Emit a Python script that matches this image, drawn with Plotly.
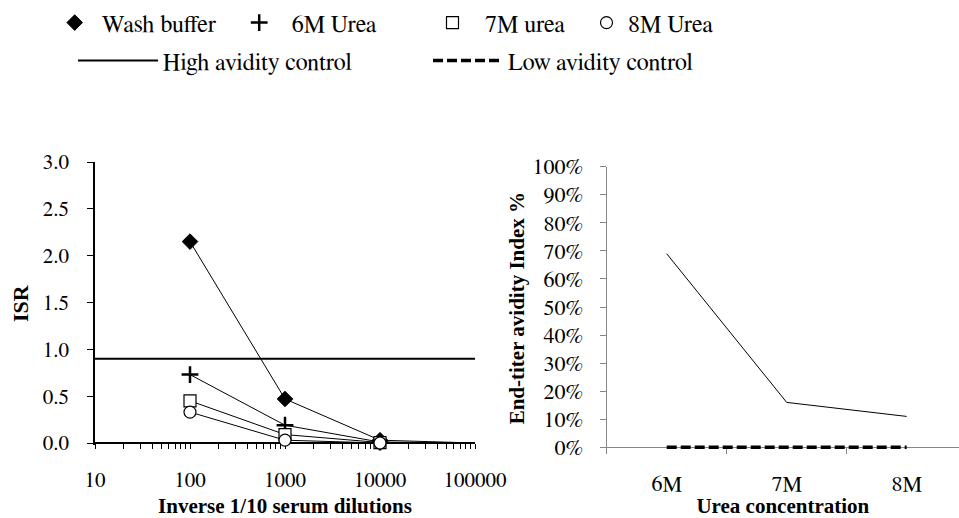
import plotly.graph_objects as go

# ---------------- data ----------------
dilutions = [100, 1000, 10000, 100000]
wash_buffer = [2.15, 0.47, 0.03, 0.0]
urea_6m = [0.73, 0.19, 0.01, 0.0]
urea_7m = [0.45, 0.09, 0.005, 0.0]
urea_8m = [0.33, 0.03, 0.0, 0.0]

high_control_x = [10, 100000]
high_control_isr = [0.9, 0.9]

dil_ticks = [10, 100, 1000, 10000, 100000]
dil_labels = ["10", "100", "1000", "10000", "100000"]

urea_conc = ["6M", "7M", "8M"]
endtiter_avidity = [0.69, 0.16, 0.11]
low_control_avidity = [0.0, 0.0, 0.0]

FONT = "FreeSerif, Liberation Serif, serif"
BOLD_FONT = "Liberation Serif, FreeSerif, serif"
W, H = 959, 518

fig = go.Figure()

series = [
    ("Wash buffer", wash_buffer, dict(symbol="diamond", size=12, color="black",
                                      line=dict(color="black", width=1))),
    ("6M Urea", urea_6m, dict(symbol="cross-thin", size=12, color="black",
                              line=dict(color="black", width=2.5))),
    ("7M urea", urea_7m, dict(symbol="square", size=12, color="white",
                              line=dict(color="black", width=1.2))),
    ("8M Urea", urea_8m, dict(symbol="circle", size=12, color="white",
                              line=dict(color="black", width=1.2))),
]

legend_names = ["legend", "legend2", "legend3", "legend4", "legend5", "legend6"]

for name, vals, mk in series:
    fig.add_trace(go.Scatter(x=dilutions, y=vals, mode="lines",
                             line=dict(color="black", width=1),
                             showlegend=False, hoverinfo="skip",
                             xaxis="x", yaxis="y"))

fig.add_trace(go.Scatter(x=high_control_x, y=high_control_isr, mode="lines",
                         name="High avidity control",
                         line=dict(color="black", width=2),
                         legend="legend5", xaxis="x", yaxis="y"))

for i, (name, vals, mk) in enumerate(series):
    shown_x = [x for x in dilutions if x < 100000]
    shown_y = vals[:len(shown_x)]
    fig.add_trace(go.Scatter(x=shown_x, y=shown_y, mode="markers",
                             name=name, marker=mk, cliponaxis=False,
                             legend=legend_names[i], xaxis="x", yaxis="y"))

fig.add_trace(go.Scatter(x=urea_conc, y=endtiter_avidity, mode="lines",
                         line=dict(color="black", width=1),
                         showlegend=False, xaxis="x2", yaxis="y2"))
fig.add_trace(go.Scatter(x=urea_conc, y=low_control_avidity, mode="lines",
                         name="Low avidity control",
                         line=dict(color="black", width=3.5, dash="10px,4px"),
                         legend="legend6", xaxis="x2", yaxis="y2"))

def px_x(p):
    return p / W

def px_y(p):
    return 1 - p / H

L_left, L_right, L_top, L_bot = 95, 475, 162, 443
R_left, R_right, R_top, R_bot = 606.7, 959, 166.7, 447.3
L_pad = 0.025   # value units below zero kept inside the clip area
R_pad = 0.008
L_scale = (L_bot - L_top) / 3.0
R_scale = (R_bot - R_top) / 1.0

row1 = px_y(23)
row2 = px_y(61)

def leg(xpx, ypaper, itemwidth=30):
    return dict(x=px_x(xpx), y=ypaper, xanchor="left", yanchor="middle",
                orientation="h", font=dict(family=FONT, size=24, color="black"),
                bgcolor="rgba(0,0,0,0)",
                borderwidth=0, itemwidth=itemwidth, tracegroupgap=0)

gray = "#868686"

fig.update_layout(
    width=W, height=H,
    margin=dict(l=0, r=0, t=0, b=0),
    paper_bgcolor="white", plot_bgcolor="white",
    font=dict(family=FONT, size=21, color="black"),
    legend=leg(47.7, row1, itemwidth=44),
    legend2=leg(226.7, row1, itemwidth=55),
    legend3=leg(420, row1, itemwidth=55),
    legend4=leg(585, row1, itemwidth=33),
    legend5=leg(73, row2, itemwidth=80),
    legend6=leg(428, row2, itemwidth=70),
    xaxis=dict(
        domain=[px_x(L_left), px_x(L_right)],
        anchor="free", position=px_y(L_bot), type="log", range=[1, 5],
        tickvals=dil_ticks, ticktext=dil_labels,
        ticks="outside", ticklen=5, tickwidth=1, tickcolor="black",
        ticklabelstandoff=13, layer="below traces",
        minor=dict(ticks="outside", ticklen=5, tickwidth=1, tickcolor="black",
                   dtick="D1", showgrid=False),
        showline=True, linecolor="black", linewidth=2,
        showgrid=False, zeroline=False, automargin=False,
        tickfont=dict(family=FONT, size=21),
        title=dict(text="<b>Inverse 1/10 serum dilutions</b>",
                   font=dict(family=BOLD_FONT, size=21), standoff=11),
    ),
    yaxis=dict(
        domain=[px_y(L_bot + L_pad * L_scale), px_y(L_top)],
        anchor="x", range=[-L_pad, 3], tickvals=[0, 0.5, 1, 1.5, 2, 2.5, 3],
        tickformat=".1f",
        ticks="outside", ticklen=6, tickwidth=1, tickcolor="black",
        ticklabelstandoff=14, layer="below traces",
        showline=True, linecolor="black", linewidth=1.5,
        showgrid=False, zeroline=False, automargin=False,
        tickfont=dict(family=FONT, size=21),
        title=dict(text="<b>ISR</b>", font=dict(family=BOLD_FONT, size=22), standoff=8),
    ),
    xaxis2=dict(
        domain=[px_x(R_left), 1.0],
        anchor="free", position=px_y(R_bot), type="category", range=[-0.5, 2.436],
        tickson="boundaries",
        ticks="outside", ticklen=6, tickwidth=1, tickcolor=gray,
        ticklabelstandoff=16, layer="below traces",
        showline=True, linecolor=gray, linewidth=1.2,
        showgrid=False, zeroline=False, automargin=False,
        tickfont=dict(family=FONT, size=22),
        title=dict(text="<b>Urea concentration</b>",
                   font=dict(family=BOLD_FONT, size=21), standoff=21),
    ),
    yaxis2=dict(
        domain=[px_y(R_bot + R_pad * R_scale), px_y(R_top)],
        anchor="x2", range=[-R_pad, 1], tickvals=[i / 10 for i in range(11)],
        tickformat=".0%",
        ticks="outside", ticklen=6, tickwidth=1, tickcolor=gray,
        ticklabelstandoff=12, layer="below traces",
        showline=True, linecolor=gray, linewidth=1.2,
        showgrid=False, zeroline=False, automargin=False,
        tickfont=dict(family=FONT, size=22),
        title=dict(text="<b>End-titer avidity Index %</b>",
                   font=dict(family=BOLD_FONT, size=21), standoff=2),
    ),
)

fig.write_html("out.html")
